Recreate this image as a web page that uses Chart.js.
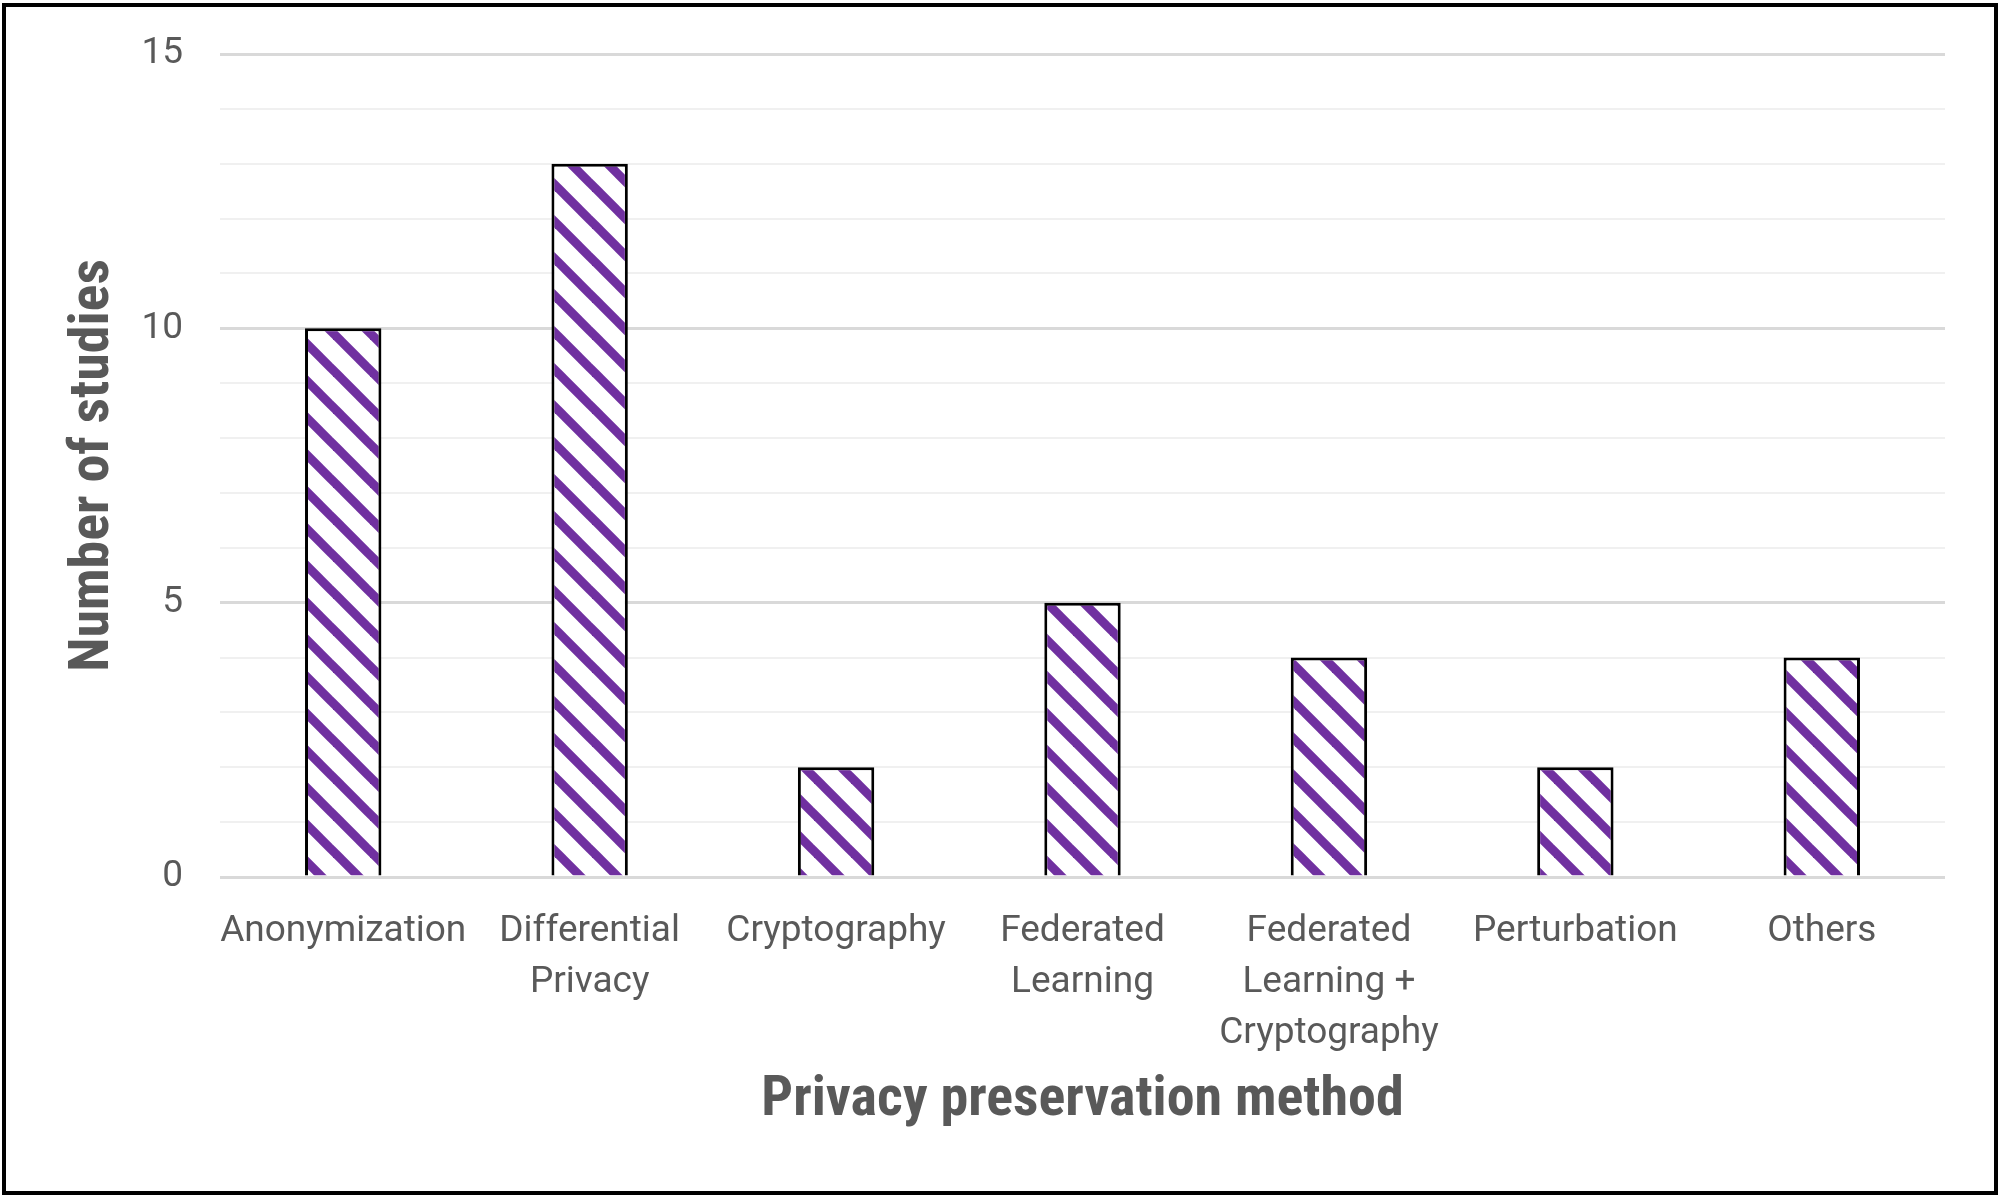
<!DOCTYPE html>
<html>
<head>
<meta charset="utf-8">
<script src="https://cdn.jsdelivr.net/npm/chart.js@4.4.1/dist/chart.umd.min.js"></script>
<style>
  body { margin: 0; background: #fff; }
  #myChart { position: absolute; left: 0; top: 0; }
  #frame { position: absolute; left: 2px; top: 3px; width: 1996px; height: 1192px;
           border: 4px solid #000; box-sizing: border-box; pointer-events: none; }
</style>
</head>
<body>
<canvas id="myChart" width="2002" height="1200"></canvas>
<div id="frame"></div>
<script>
var categories = ['Anonymization', ['Differential', 'Privacy'], 'Cryptography', ['Federated', 'Learning'],
	['Federated', 'Learning +', 'Cryptography'], 'Perturbation', 'Others']
var studies = [10, 13, 2, 5, 4, 2, 4]
var yTickLabels = [0, 5, 10, 15]

var textColor = '#595959'
var purple = '#7030A0'
// the font string takes the stretch keyword through the weight field
var titleFont = { family: 'Roboto', size: 56, weight: 'semi-condensed bold' }

// diagonal hatch like the Excel "wide downward diagonal" fill
function hatch() {
	var s = 37
	var c = document.createElement('canvas')
	c.width = s
	c.height = s
	var g = c.getContext('2d')
	g.fillStyle = '#fff'
	g.fillRect(0, 0, s, s)
	g.strokeStyle = purple
	g.lineWidth = 9
	for (var k = -1; k <= 1; k++) {
		g.beginPath()
		g.moveTo(k * s - 5, -5)
		g.lineTo(k * s + s + 5, s + 5)
		g.stroke()
	}
	return document.getElementById('myChart').getContext('2d').createPattern(c, 'repeat')
}

var ctx = document.getElementById('myChart')
var chart = new Chart(ctx, {
	type: 'bar',
	data: {
		labels: categories,
		datasets: [{
			data: studies,
			backgroundColor: hatch(),
			borderColor: '#000',
			borderWidth: 3,
			barPercentage: 0.31,
			categoryPercentage: 1,
		}]
	},
	options: {
		responsive: false,
		devicePixelRatio: 1,
		animation: false,
		layout: { padding: { left: 50, right: 57, top: 54, bottom: 55 } },
		plugins: { legend: { display: false }, tooltip: { enabled: false } },
		scales: {
			x: {
				grid: { display: false, drawTicks: false },
				border: { display: false },
				ticks: {
					color: textColor,
					font: { family: 'Roboto', size: 37, lineHeight: 1.38 },
					padding: 29,
					maxRotation: 0,
					autoSkip: false,
				},
				title: {
					display: true,
					text: 'Privacy preservation method',
					color: textColor,
					font: titleFont,
					padding: { top: 12, bottom: 10 },
				},
				afterFit: function (s) { s.height = 268 },
			},
			y: {
				min: 0,
				max: 15,
				border: { display: false },
				grid: {
					drawTicks: false,
					color: function (c) { return c.tick.value % 5 === 0 ? '#d9d9d9' : '#f0f0f0' },
					lineWidth: function (c) { return c.tick.value % 5 === 0 ? 3 : 2 },
				},
				ticks: {
					stepSize: 1,
					color: textColor,
					font: { family: 'Roboto', size: 37 },
					padding: 37,
					callback: function (v) { return yTickLabels.indexOf(v) >= 0 ? v : '' },
				},
				title: {
					display: true,
					text: 'Number of studies',
					color: textColor,
					font: titleFont,
					padding: { top: 10, bottom: 12 },
				},
				afterFit: function (s) {
					s.width = 170
					s.paddingTop = 0
					s.paddingBottom = 0
				},
			}
		}
	}
})
</script>
</body>
</html>
